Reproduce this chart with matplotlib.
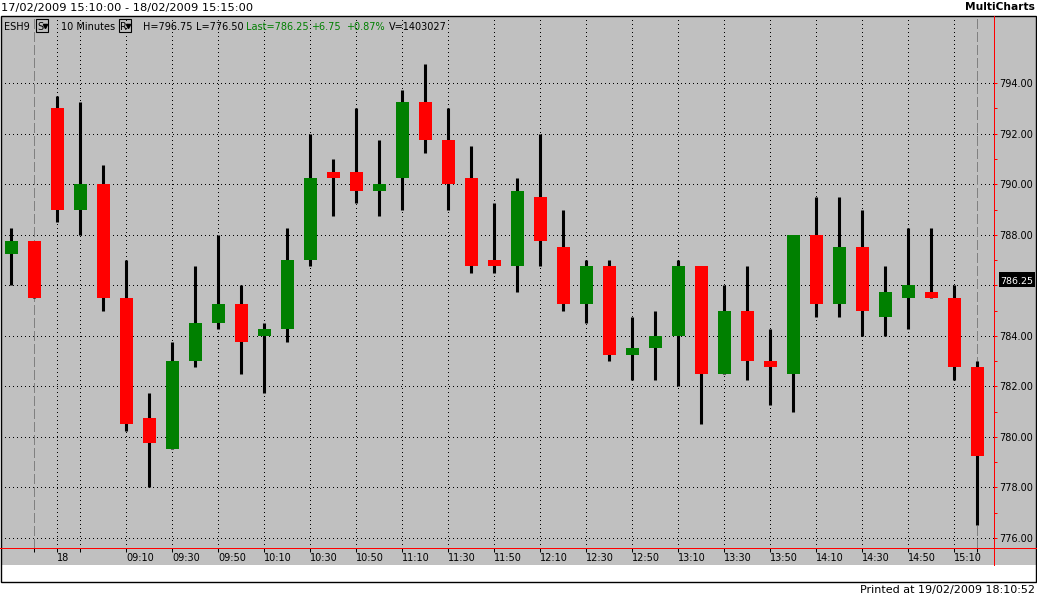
import numpy as np
import matplotlib
matplotlib.use('Agg')
import matplotlib.pyplot as plt
from matplotlib.patches import Rectangle

# ESH9 10 minute bars, 17/02 15:10 -> 18/02 15:15
opens = [787.25, 787.75, 793.0, 789.0, 790.0, 785.5, 780.75, 779.5, 783.0, 784.5,
         785.25, 784.0, 784.25, 787.0, 790.5, 790.5, 789.75, 790.25, 793.25, 791.75,
         790.25, 787.0, 786.75, 789.5, 787.5, 785.25, 786.75, 783.25, 783.5, 784.0,
         786.75, 782.5, 785.0, 783.0, 782.5, 788.0, 785.25, 787.5, 784.75, 785.5,
         785.75, 785.5, 782.75]
highs = [788.25, 787.75, 793.5, 793.25, 790.75, 787.0, 781.75, 783.75, 786.75, 788.0,
         786.0, 784.5, 788.25, 792.0, 791.0, 793.0, 791.75, 793.75, 794.75, 793.0,
         791.5, 789.25, 790.25, 792.0, 789.0, 787.0, 787.0, 784.75, 785.0, 787.0,
         786.75, 786.0, 786.75, 784.25, 788.0, 789.5, 789.5, 789.0, 786.75, 788.25,
         788.25, 786.0, 783.0]
lows = [786.0, 785.5, 788.5, 788.0, 785.0, 780.25, 778.0, 779.5, 782.75, 784.25,
        782.5, 781.75, 783.75, 786.75, 788.75, 789.25, 788.75, 789.0, 791.25, 789.0,
        786.5, 786.5, 785.75, 786.75, 785.0, 784.5, 783.0, 782.25, 782.25, 782.0,
        780.5, 782.5, 782.25, 781.25, 781.0, 784.75, 784.75, 784.0, 784.0, 784.25,
        785.5, 782.25, 776.5]
closes = [787.75, 785.5, 789.0, 790.0, 785.5, 780.5, 779.75, 783.0, 784.5, 785.25,
          783.75, 784.25, 787.0, 790.25, 790.25, 789.75, 790.0, 793.25, 791.75, 790.0,
          786.75, 786.75, 789.75, 787.75, 785.25, 786.75, 783.25, 783.5, 784.0, 786.75,
          782.5, 785.0, 783.0, 782.75, 788.0, 785.25, 787.5, 785.0, 785.75, 786.0,
          785.5, 782.75, 779.25]

tick_pos = [2, 3, 5, 7, 9, 11, 13, 15, 17, 19, 21, 23, 25, 27, 29, 31, 33, 35, 37, 39, 41]
tick_labels = ['18', '', '09:10', '09:30', '09:50', '10:10', '10:30', '10:50', '11:10',
               '11:30', '11:50', '12:10', '12:30', '12:50', '13:10', '13:30', '13:50',
               '14:10', '14:30', '14:50', '15:10']
session_marks = [1, 42]
price_ticks = [776, 778, 780, 782, 784, 786, 788, 790, 792, 794]
last_price = 786.25

W, H = 1037, 596
fig = plt.figure(figsize=(W / 100, H / 100), dpi=100, facecolor='white')

def px_axes(x0, y0, x1, y1):
    # axes box given in pixels, y counted from the top
    return fig.add_axes([x0 / W, 1 - y1 / H, (x1 - x0) / W, (y1 - y0) / H])

def overlay(z):
    a = px_axes(0, 0, W, H)
    a.set_xlim(0, W); a.set_ylim(H, 0)
    a.axis('off'); a.set_zorder(z); a.patch.set_alpha(0)
    return a

bg = overlay(0)
bg.add_patch(Rectangle((0.5, 15.5), 1035.5, 549.5, facecolor='#c0c0c0', edgecolor='none'))

# main chart
ax = px_axes(1, 15, 994, 548)
ax.set_zorder(1)
ax.patch.set_alpha(0)
ax.set_xlim((1 - 11.3) / 23, (994 - 11.3) / 23)
ax.set_ylim(775.60, 796.70)
for s in ax.spines.values():
    s.set_visible(False)

o = np.array(opens); c = np.array(closes)
x = np.arange(len(o))
cols = np.where(c >= o, '#008000', '#ff0000')
ax.vlines(x, lows, highs, color='black', lw=2.2, zorder=3)
ax.bar(x, np.abs(c - o), bottom=np.minimum(o, c), width=0.57, color=cols, lw=0, zorder=4)

dot = (0, (0.5, 3.5))
for p in price_ticks:
    ax.axhline(p, color='black', ls=dot, lw=0.72, zorder=1, antialiased=False)
for t in tick_pos:
    ax.axvline(t, color='black', ls=dot, lw=0.72, zorder=1, antialiased=False)
for t in session_marks:
    ax.axvline(t, color='#808080', ls=(0, (10, 4)), lw=0.72, zorder=1, antialiased=False)

ax.yaxis.tick_right()
ax.set_yticks(price_ticks)
# 786.00 sits under the last-price marker
ax.set_yticklabels(['' if p == 786 else '%.2f' % p for p in price_ticks])
ax.set_yticks(np.arange(777, 795, 2), minor=True)
ax.tick_params(axis='y', which='both', colors='red', labelcolor='black',
               length=2.2, width=0.72, labelsize=7, pad=1.5)

ax.set_xticks(tick_pos + session_marks)
ax.set_xticklabels(tick_labels + ['', ''])
ax.tick_params(axis='x', colors='black', length=3, width=0.72, labelsize=7, pad=0.5)
for lbl in ax.get_xticklabels():
    lbl.set_ha('left')
for tk in ax.xaxis.get_major_ticks()[-2:]:
    tk.tick1line.set_color('#808080')

fg = overlay(5)
# frame and red axis lines
fg.add_patch(Rectangle((0.5, 15.5), 1035.5, 566.5, facecolor='none', edgecolor='black', lw=1.0))
fg.plot([0, 1036], [548, 548], color='red', lw=0.72, antialiased=False)
fg.plot([994, 994], [15.5, 565], color='red', lw=0.72, antialiased=False)

# last price marker
fg.add_patch(Rectangle((999, 272), 36, 15, facecolor='black', edgecolor='none'))
fg.text(1000.5, 283.5, '%.2f' % last_price, color='white', fontsize=6.8, va='baseline')

# title / footer
fg.text(1, 10.5, '17/02/2009 15:10:00 - 18/02/2009 15:15:00', fontsize=8.2, va='baseline')
fg.text(1035, 10.5, 'MultiCharts', fontsize=7.7, fontweight='bold', ha='right', va='baseline')
fg.text(1035, 593, 'Printed at 19/02/2009 18:10:52', fontsize=8, ha='right', va='baseline')

# status line
hy = 29.5
fg.text(4, hy, 'ESH9', fontsize=7, va='baseline')
for bx in (36, 119):
    fg.add_patch(Rectangle((bx, 18.5), 12, 13, facecolor='none', edgecolor='black', lw=0.8))
fg.text(37.5, hy, 'S', fontsize=7, va='baseline')
fg.plot([45], [25.5], marker='v', ms=3, color='black')
fg.text(61, hy, '10 Minutes', fontsize=7, va='baseline')
fg.text(120, hy, 'R', fontsize=7, va='baseline')
fg.plot([128], [25.5], marker='v', ms=3, color='black')
fg.text(143, hy, 'H=796.75', fontsize=7, va='baseline')
fg.text(196, hy, 'L=776.50', fontsize=7, va='baseline')
fg.text(246, hy, 'Last=786.25', fontsize=7, va='baseline', color='#008000')
fg.text(311, hy, '+6.75', fontsize=7, va='baseline', color='#008000')
fg.text(346, hy, '+0.87%', fontsize=7, va='baseline', color='#008000')
fg.text(389, hy, 'V=1403027', fontsize=7, va='baseline')

fig.savefig('out.png', dpi=100, facecolor='white')
